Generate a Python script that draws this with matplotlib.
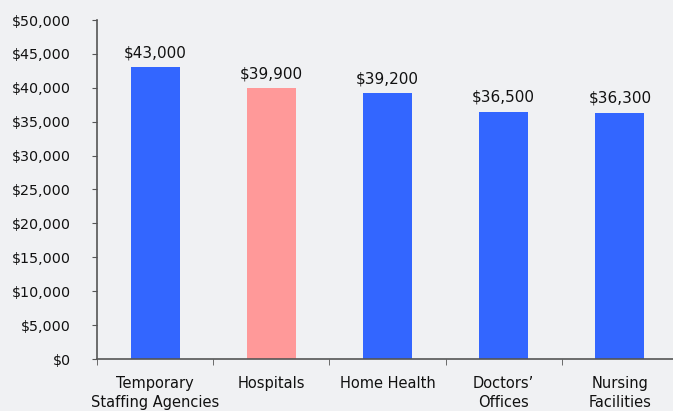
import matplotlib.pyplot as plt
from matplotlib.ticker import FuncFormatter, FixedLocator

# Average salary by employer type
categories = ['Temporary\nStaffing Agencies', 'Hospitals', 'Home Health',
              'Doctors\u2019\nOffices', 'Nursing\nFacilities']
salaries = [43000, 39900, 39200, 36500, 36300]
bar_colors = ['#3366ff', '#ff9999', '#3366ff', '#3366ff', '#3366ff']

bg = '#f0f1f3'
fig = plt.figure(figsize=(6.73, 4.11), dpi=100, facecolor=bg)
ax = fig.add_axes([97 / 673, 52 / 411, 581 / 673, 339 / 411], facecolor=bg)

x = range(len(categories))
ax.bar(x, salaries, width=0.42, color=bar_colors, zorder=2)

for xi, v in zip(x, salaries):
    ax.annotate('${:,.0f}'.format(v), (xi, v), xytext=(0, 5),
                textcoords='offset points', ha='center', va='bottom',
                fontsize=11, color='#111111')

ax.set_xlim(-0.5, len(categories) - 0.5)
ax.set_ylim(0, 50000)
ax.set_yticks(range(0, 50001, 5000))
ax.yaxis.set_major_formatter(FuncFormatter(lambda v, p: '${:,.0f}'.format(v)))

ax.set_xticks(list(x))
ax.set_xticklabels(categories, fontsize=10.5, color='#111111', linespacing=1.35)
ax.xaxis.set_minor_locator(FixedLocator([i - 0.5 for i in range(len(categories) + 1)]))
ax.tick_params(axis='x', which='major', length=0, pad=12)
ax.tick_params(axis='x', which='minor', length=4.5, color='#555555', direction='out')
ax.tick_params(axis='y', labelsize=10.3, labelcolor='#111111', length=3.6,
               color='#555555', pad=15)

for side in ['top', 'right']:
    ax.spines[side].set_visible(False)
for side in ['left', 'bottom']:
    ax.spines[side].set_color('#555555')
    ax.spines[side].set_linewidth(1.2)

fig.savefig('out.png', dpi=100, facecolor=bg)
